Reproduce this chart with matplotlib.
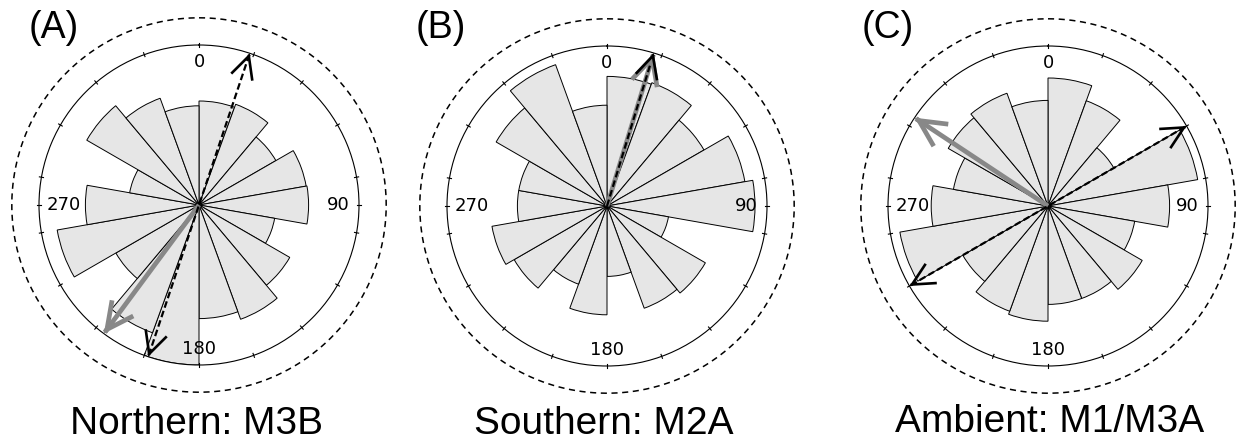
import numpy as np
import matplotlib.pyplot as plt

# 18 direction bins of 20 degrees (compass, clockwise from north)
BIN_DEG = np.arange(10, 360, 20)

# bar lengths, relative to the outer solid ring
north_m3b = [0.65, 0.67, 0.555, 0.68, 0.685, 0.48, 0.655, 0.76, 0.71,
             1.0, 0.85, 0.60, 0.90, 0.71, 0.44, 0.81, 0.71, 0.62]
south_m2a = [0.81, 0.82, 0.70, 0.875, 0.925, 0.39, 0.71, 0.68, 0.44,
             0.68, 0.52, 0.67, 0.73, 0.56, 0.56, 0.80, 0.94, 0.63]
ambient_m1m3a = [0.80, 0.70, 0.475, 0.95, 0.76, 0.55, 0.68, 0.615, 0.615,
                 0.72, 0.70, 0.615, 0.94, 0.73, 0.60, 0.72, 0.75, 0.66]

# mean directions (deg): gray = vector mean, dashed = axial mean
gray_dir = [216.5, 17.0, 303.5]
axial_dir = [18.5, 17.0, 60.0]
axial_double = [True, False, True]

panel_tags = ["(A)", "(B)", "(C)"]
panel_names = ["Northern: M3B", "Southern: M2A", "Ambient: M1/M3A"]
series = [north_m3b, south_m2a, ambient_m1m3a]

# tick angles on the ring
TICK_DEG = sorted(set(range(0, 360, 20)) | {90, 270})

centers_px = [(199, 205), (607, 206), (1048, 206)]
name_x_px = [197, 604, 1050]
name_base_px = [434, 434, 432]
tag_x_px = [29, 416, 862]

W, H = 1238, 441
R_PX = 160


def head(ax, theta, color, lw, hl, hw):
    style = f"->, head_length={hl}, head_width={hw}"
    ax.annotate("", xy=(theta, 1.0), xytext=(theta, 0.985),
                arrowprops=dict(arrowstyle=style, color=color, lw=lw,
                                shrinkA=0, shrinkB=0, mutation_scale=10,
                                joinstyle="miter", capstyle="butt"),
                annotation_clip=False, zorder=6)


def draw_rose(ax, values, gdir, adir, double):
    ax.set_theta_zero_location("N")
    ax.set_theta_direction(-1)
    ax.bar(np.deg2rad(BIN_DEG), values, width=np.deg2rad(20), bottom=0,
           color="#e6e6e6", edgecolor="black", linewidth=0.7, zorder=2)
    ax.set_ylim(0, 1)
    ax.grid(False)
    ax.set_yticks([])
    ax.set_xticks([])
    ax.spines["polar"].set_linewidth(0.8)
    ax.set_facecolor("none")

    for t in TICK_DEG:
        tr = np.deg2rad(t)
        ax.plot([tr, tr], [0.987, 1.013], color="black", lw=0.8,
                clip_on=False, zorder=3)

    ax.text(0, 0.95, "0", ha="center", va="top", fontsize=13)
    ax.text(np.pi / 2, 0.94, "90", ha="right", va="center", fontsize=13)
    ax.text(np.pi, 0.955, "180", ha="center", va="bottom", fontsize=13)
    ax.text(3 * np.pi / 2, 0.95, "270", ha="left", va="center", fontsize=13)

    ring = np.linspace(0, 2 * np.pi, 400)
    ax.plot(ring, np.full_like(ring, 1.17), color="black", lw=1.1,
            dashes=(4, 3), clip_on=False)

    # gray vector-mean arrow
    g = np.deg2rad(gdir)
    ax.plot([g, g], [0, 0.99], color="#888888", lw=3.4,
            solid_capstyle="butt", zorder=4)
    head(ax, g, "#888888", 3.4, 1.9, 0.95)

    # dashed axial-mean arrow
    a = np.deg2rad(adir)
    if double:
        ax.plot([a, a, a + np.pi], [0.99, 0, 0.99], color="black", lw=1.6,
                dashes=(3, 1.5), zorder=5)
        head(ax, a, "black", 1.9, 1.6, 0.8)
        head(ax, a + np.pi, "black", 1.9, 1.6, 0.8)
    else:
        ax.plot([a, a], [0, 0.99], color="black", lw=1.6, dashes=(3, 1.5),
                zorder=5)
        head(ax, a, "black", 1.9, 1.6, 0.8)


fig = plt.figure(figsize=(W / 100, H / 100), dpi=100)
fig.patch.set_facecolor("white")

for i in range(3):
    cx, cy = centers_px[i]
    rect = [(cx - R_PX) / W, (H - cy - R_PX) / H, 2 * R_PX / W, 2 * R_PX / H]
    ax = fig.add_axes(rect, projection="polar")
    draw_rose(ax, series[i], gray_dir[i], axial_dir[i], axial_double[i])

    fig.text(tag_x_px[i] / W, 1 - 10 / H, panel_tags[i], ha="left", va="top",
             fontsize=27, family="Liberation Sans")
    fig.text(name_x_px[i] / W, 1 - name_base_px[i] / H, panel_names[i],
             ha="center", va="baseline", fontsize=28, family="Liberation Sans")

fig.savefig("out.png", dpi=100, facecolor="white")
